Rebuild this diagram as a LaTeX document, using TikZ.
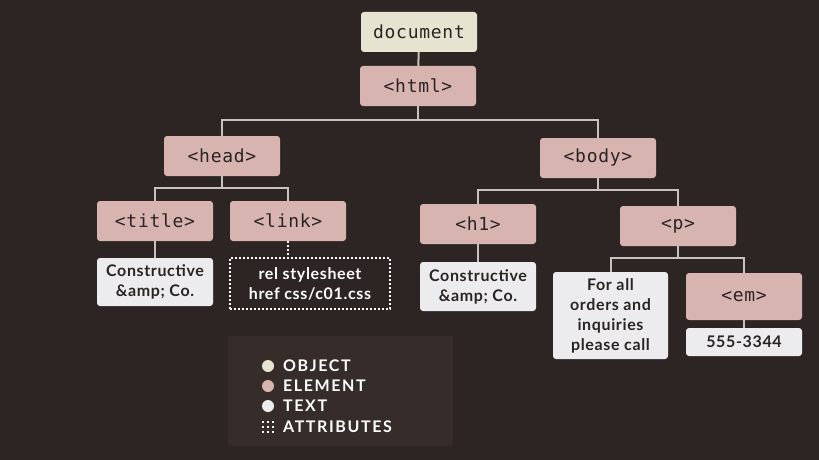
\documentclass[tikz,border=0pt]{standalone}
\usepackage{fontspec}
\setmainfont{Lato}
\newfontfamily\monof[LetterSpace=4]{DejaVu Sans Mono}
\newfontfamily\boldf[LetterSpace=4]{Lato Bold}
\usetikzlibrary{calc}
\definecolor{bg}{HTML}{2D2523}
\definecolor{legbg}{HTML}{362D2B}
\definecolor{elem}{HTML}{D8B4B1}
\definecolor{obj}{HTML}{E6E4D0}
\definecolor{txt}{HTML}{ECECEE}
\definecolor{conn}{HTML}{C9C1BD}
\definecolor{ink}{HTML}{2A2423}
\tikzset{
  box/.style={rounded corners=3pt, minimum width=116pt, minimum height=40pt, inner sep=0pt, text=ink},
  elembox/.style={box, fill=elem, font=\monof\fontsize{18}{20}\selectfont},
  objbox/.style={box, fill=obj, font=\monof\fontsize{18}{20}\selectfont},
  textbox/.style={box, fill=txt, font=\boldf\fontsize{16}{20}\selectfont, align=center},
  attrbox/.style={draw=white, line width=2pt, dash pattern=on 2pt off 2pt, minimum width=160pt, minimum height=51pt, inner sep=0pt, text=white, font=\boldf\fontsize{16}{20}\selectfont, align=center},
  link/.style={draw=conn, line width=2pt},
  dotlink/.style={draw=white, line width=2pt, dash pattern=on 2pt off 2pt},
  legdot/.style={circle, minimum size=12pt, inner sep=0pt},
  legtext/.style={anchor=west, text=white, font=\boldf\addfontfeature{LetterSpace=10}\fontsize{16}{18}\selectfont, inner sep=0pt}
}
\begin{document}
\begin{tikzpicture}[x=1pt, y=-1pt]
\useasboundingbox (0,0) rectangle (819,460);
\fill[bg] (0,0) rectangle (819,460);
\fill[legbg] (228,336) rectangle (453,446);

% nodes
\node[objbox] (doc) at (419,32) {document};
\node[elembox] (html) at (418,86) {<html>};
\node[elembox] (head) at (222,156) {<head>};
\node[elembox] (body) at (598,158) {<body>};
\node[elembox] (title) at (155,221) {<title>};
\node[elembox] (lnk) at (288,221) {<link>};
\node[elembox] (hone) at (478,224) {<h1>};
\node[elembox] (p) at (678,226) {<p>};
\node[textbox, minimum height=48pt] (t1) at (155,282) {Constructive\\\&amp; Co.};
\node[attrbox] (attr) at (310,283.5) {rel stylesheet\\href css/c01.css};
\node[textbox, minimum height=49pt] (t2) at (478,286.5) {Constructive\\\&amp; Co.};
\node[textbox, minimum width=115pt, minimum height=87pt] (t3) at (610.5,315.5) {For all\\orders and\\inquiries\\please call};
\node[elembox, minimum height=47pt] (em) at (744,296.5) {<em>};
\node[textbox, minimum height=28pt] (t4) at (744,342) {555-3344};

% bus levels
\coordinate (b1) at (0,120);
\coordinate (b2) at (0,188);
\coordinate (b3) at (0,190);
\coordinate (b4) at (0,258);

% connectors
\draw[link] (doc) -- (html);
\draw[link] (html.south) -- (html.south |- b1);
\draw[link] (head.north) |- (html.south |- b1) -| (body.north);
\draw[link] (head.south) -- (head.south |- b2);
\draw[link] (title.north) |- (head.south |- b2) -| (lnk.north);
\draw[link] (body.south) -- (body.south |- b3);
\draw[link] (hone.north) |- (body.south |- b3) -| (p.north);
\draw[link] (title) -- (t1);
\draw[dotlink] (lnk.south) -- (lnk.south |- attr.north);
\draw[link] (hone) -- (t2);
\draw[link] (p.south) -- (p.south |- b4);
\draw[link] (t3.north) |- (p.south |- b4) -| (em.north);
\draw[link] (em) -- (t4);

% legend
\node[legdot, fill=obj] (l1) at (268,366) {};
\node[legdot, fill=elem] (l2) at (268,386) {};
\node[legdot, fill=txt] (l3) at (268,406) {};
\node[legtext] (lt1) at (283,366) {OBJECT};
\node[legtext] (lt2) at (283,386) {ELEMENT};
\node[legtext] (lt3) at (283,406) {TEXT};
\node[legtext] (lt4) at (283,427) {ATTRIBUTES};
\foreach \i in {0,1,2} \foreach \j in {0,1,2}
  \fill[white] (262+\i*5,421+\j*5) rectangle ++(2,2);
\end{tikzpicture}
\end{document}
